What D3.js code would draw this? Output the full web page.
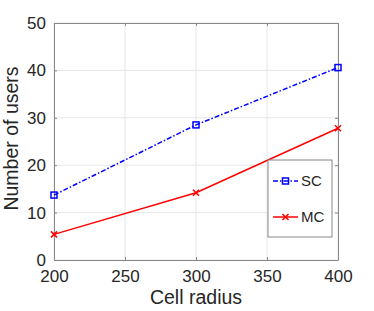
<!DOCTYPE html>
<html>
<head>
<meta charset="utf-8">
<script src="https://cdn.jsdelivr.net/npm/d3@7"></script>
<style>
  body { margin: 0; background: #fff; }
  text { font-family: "Liberation Sans", Arial, sans-serif; fill: #262626; }
</style>
</head>
<body>
<div id="chart"></div>
<script>
// data
var radius = [200, 300, 400];
var scUsers = [13.7, 28.5, 40.6];
var mcUsers = [5.4, 14.2, 27.8];
var xTicks = [200, 250, 300, 350, 400];
var yTicks = [0, 10, 20, 30, 40, 50];

var W = 374, H = 311;
var margin = { top: 23, right: 36, bottom: 51, left: 54 },
  width = W - margin.left - margin.right,
  height = H - margin.top - margin.bottom;

var svg = d3.select("#chart")
  .append("svg")
  .attr("width", W)
  .attr("height", H)
  .append("g")
  .attr("transform", "translate(" + margin.left + "," + margin.top + ")");

var x = d3.scaleLinear().domain([200, 400]).range([0, width]);
var y = d3.scaleLinear().domain([0, 50]).range([height, 0]);

// grid
svg.append("g").selectAll("line")
  .data(xTicks).enter().append("line")
  .attr("x1", function (d) { return x(d); })
  .attr("x2", function (d) { return x(d); })
  .attr("y1", 0).attr("y2", height)
  .attr("stroke", "#e6e6e6").attr("stroke-width", 1);
svg.append("g").selectAll("line")
  .data(yTicks).enter().append("line")
  .attr("y1", function (d) { return y(d); })
  .attr("y2", function (d) { return y(d); })
  .attr("x1", 0).attr("x2", width)
  .attr("stroke", "#e6e6e6").attr("stroke-width", 1);

// axes, ticks pointing inward like matlab
svg.append("g")
  .attr("transform", "translate(0," + height + ")")
  .call(d3.axisBottom(x).tickValues(xTicks).tickSize(-3).tickPadding(10).tickSizeOuter(0));
svg.append("g")
  .call(d3.axisLeft(y).tickValues(yTicks).tickSize(-3).tickPadding(8).tickSizeOuter(0));
svg.append("g")
  .call(d3.axisTop(x).tickValues(xTicks).tickSize(-3).tickFormat("").tickSizeOuter(0));
svg.append("g")
  .attr("transform", "translate(" + width + ",0)")
  .call(d3.axisRight(y).tickValues(yTicks).tickSize(-3).tickFormat("").tickSizeOuter(0));

svg.selectAll(".domain, .tick line").attr("stroke", "#888");
svg.selectAll(".tick text").style("font-size", "17px").attr("fill", "#262626");

// axis labels
svg.append("text")
  .attr("x", width / 2)
  .attr("y", height + 44)
  .attr("text-anchor", "middle")
  .style("font-size", "19.5px")
  .text("Cell radius");
svg.append("text")
  .attr("transform", "rotate(-90)")
  .attr("x", -height / 2 + 3)
  .attr("y", -36)
  .attr("text-anchor", "middle")
  .style("font-size", "19.5px")
  .text("Number of users");

var line = d3.line()
  .x(function (d) { return x(d[0]); })
  .y(function (d) { return y(d[1]); });

var scData = radius.map(function (r, i) { return [r, scUsers[i]]; });
var mcData = radius.map(function (r, i) { return [r, mcUsers[i]]; });

svg.append("path")
  .datum(scData)
  .attr("d", line)
  .attr("fill", "none")
  .attr("stroke", "#0000ff")
  .attr("stroke-width", 1.5)
  .attr("stroke-dasharray", "5,2,1.5,2");

svg.append("path")
  .datum(mcData)
  .attr("d", line)
  .attr("fill", "none")
  .attr("stroke", "#ff0000")
  .attr("stroke-width", 1.5);

function square(g, cx, cy) {
  g.append("rect")
    .attr("x", cx - 3).attr("y", cy - 3)
    .attr("width", 6).attr("height", 6)
    .attr("fill", "none").attr("stroke", "#0000ff").attr("stroke-width", 1.5);
}
function cross(g, cx, cy) {
  var s = 3;
  g.append("path")
    .attr("d", "M" + (cx - s) + "," + (cy - s) + "L" + (cx + s) + "," + (cy + s) +
      "M" + (cx - s) + "," + (cy + s) + "L" + (cx + s) + "," + (cy - s))
    .attr("stroke", "#ff0000").attr("stroke-width", 1.5);
}

scData.forEach(function (d) { square(svg, x(d[0]), y(d[1])); });
mcData.forEach(function (d) { cross(svg, x(d[0]), y(d[1])); });

// legend
var lg = svg.append("g").attr("transform", "translate(" + (268 - margin.left) + "," + (160 - margin.top) + ")");
lg.append("rect")
  .attr("width", 64).attr("height", 77)
  .attr("fill", "#fff").attr("stroke", "#888").attr("stroke-width", 1);
lg.append("line")
  .attr("x1", 5).attr("x2", 30).attr("y1", 21).attr("y2", 21)
  .attr("stroke", "#0000ff").attr("stroke-width", 1.5)
  .attr("stroke-dasharray", "5,2,1.5,2");
square(lg, 17.5, 21);
lg.append("line")
  .attr("x1", 5).attr("x2", 30).attr("y1", 57).attr("y2", 57)
  .attr("stroke", "#ff0000").attr("stroke-width", 1.5);
cross(lg, 17.5, 57);
lg.append("text").attr("x", 33).attr("y", 21).attr("dy", "0.35em")
  .style("font-size", "15px").text("SC");
lg.append("text").attr("x", 33).attr("y", 57).attr("dy", "0.35em")
  .style("font-size", "15px").text("MC");
</script>
</body>
</html>
